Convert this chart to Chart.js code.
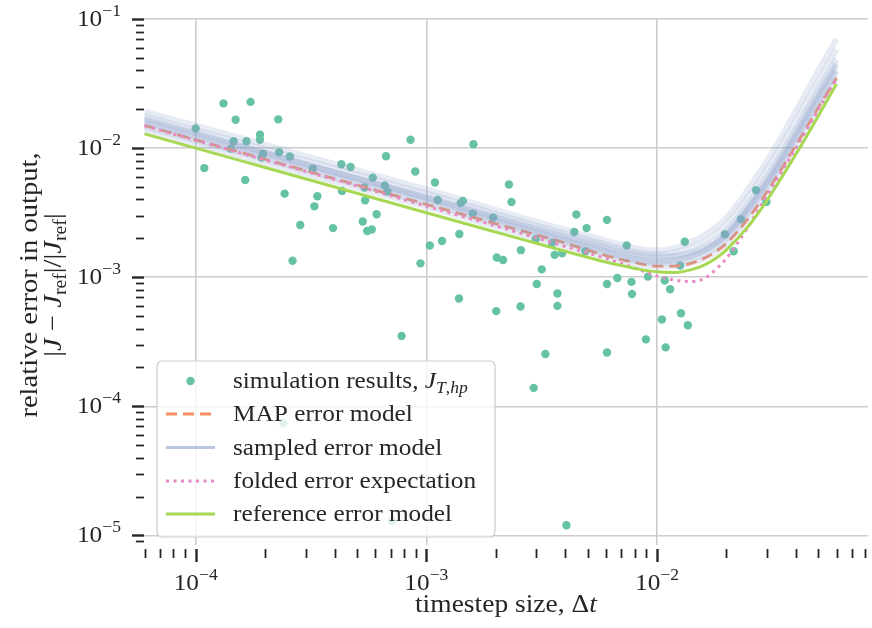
<!DOCTYPE html>
<html>
<head>
<meta charset="utf-8">
<script src="https://cdn.jsdelivr.net/npm/chart.js@4.4.1/dist/chart.umd.min.js"></script>
<style>
  html, body { margin: 0; padding: 0; background: #fff; }
  #wrap { width: 872px; height: 628px; }
</style>
</head>
<body>
<div id="wrap"><canvas id="chart" width="872" height="628"></canvas></div>
<script>
//-----Data
const simX = [1.0e-4, 1.32e-4, 1.73e-4, 1.49e-4, 1.09e-4, 1.46e-4, 1.42e-4, 1.66e-4, 1.90e-4, 1.90e-4,
  2.28e-4, 1.96e-4, 1.93e-4, 1.64e-4, 2.30e-4, 2.56e-4, 2.43e-4, 2.84e-4, 2.63e-4, 3.22e-4,
  3.37e-4, 3.27e-4, 3.94e-4, 4.28e-4, 4.69e-4, 4.31e-4, 5.39e-4, 5.43e-4, 5.86e-4, 6.69e-4,
  6.60e-4, 6.78e-4, 6.09e-4, 5.30e-4, 5.54e-4, 5.80e-4, 8.54e-4, 8.95e-4, 1.09e-3, 1.12e-3,
  1.035e-3, 9.43e-4, 7.81e-4, 1.60e-3, 1.17e-3, 1.41e-3, 1.44e-3, 1.59e-3, 1.39e-3, 1.385e-3,
  1.95e-3, 2.02e-3, 2.15e-3, 2.28e-3, 2.34e-3, 2.57e-3, 2.01e-3, 2.56e-3, 2.98e-3, 3.01e-3,
  3.165e-3, 3.51e-3, 3.60e-3, 3.88e-3, 3.70e-3, 3.70e-3, 3.28e-3, 4.47e-3, 4.38e-3, 4.95e-3,
  4.89e-3, 6.07e-3, 6.07e-3, 6.73e-3, 7.39e-3, 7.75e-3, 7.79e-3, 6.07e-3, 8.95e-3, 9.13e-3,
  1.08e-2, 1.14e-2, 1.05e-2, 1.09e-2, 1.27e-2, 1.36e-2, 1.32e-2, 1.26e-2, 1.97e-2, 2.15e-2,
  2.31e-2, 2.69e-2, 2.98e-2, 2.92e-3, 4.05e-3, 7.10e-4, 2.40e-4];
const simY = [1.42e-2, 2.22e-2, 2.28e-2, 1.66e-2, 7.0e-3, 1.13e-2, 9.9e-3, 1.13e-2, 1.27e-2, 1.16e-2,
  1.67e-2, 9.07e-3, 8.44e-3, 5.66e-3, 9.28e-3, 8.6e-3, 4.44e-3, 2.54e-3, 1.34e-3, 6.94e-3,
  4.24e-3, 3.54e-3, 2.40e-3, 7.49e-3, 7.14e-3, 4.66e-3, 4.95e-3, 3.94e-3, 5.91e-3, 8.64e-3,
  5.13e-3, 4.61e-3, 3.07e-3, 2.70e-3, 2.28e-3, 2.34e-3, 1.16e-2, 6.58e-3, 5.41e-3, 3.96e-3,
  1.76e-3, 1.28e-3, 3.51e-4, 1.07e-2, 1.91e-3, 3.76e-3, 3.90e-3, 3.11e-3, 2.16e-3, 6.84e-4,
  2.90e-3, 1.42e-3, 1.36e-3, 5.22e-3, 3.83e-3, 1.62e-3, 5.46e-4, 5.93e-4, 1.98e-3, 8.87e-4,
  1.15e-3, 1.84e-3, 1.49e-3, 1.53e-3, 7.48e-4, 6.0e-4, 2.54e-4, 3.06e-3, 2.24e-3, 2.40e-3,
  1.59e-3, 2.78e-3, 8.87e-4, 9.86e-4, 1.76e-3, 9.20e-4, 7.42e-4, 2.61e-4, 3.30e-4, 1.01e-3,
  9.43e-4, 8.07e-4, 4.71e-4, 2.86e-4, 5.26e-4, 4.25e-4, 1.88e-3, 1.23e-3, 2.15e-3, 1.59e-3,
  2.81e-3, 4.71e-3, 3.83e-3, 1.39e-4, 1.20e-5, 1.30e-5, 7.37e-5];

const curveX = [6e-5, 1e-4, 2e-4, 5e-4, 1e-3, 2e-3, 4e-3, 6e-3, 8e-3, 1e-2,
  1.2e-2, 1.4e-2, 1.6e-2, 1.8e-2, 2e-2, 2.5e-2, 3e-2, 4e-2, 5e-2, 6e-2];
const mapY = [1.50e-2, 1.16e-2, 8.2e-3, 5.19e-3, 3.67e-3, 2.60e-3, 1.84e-3, 1.47e-3, 1.30e-3, 1.22e-3,
  1.22e-3, 1.28e-3, 1.40e-3, 1.58e-3, 1.83e-3, 2.90e-3, 4.60e-3, 1.05e-2, 2.05e-2, 3.5e-2];
const foldedY = [1.49e-2, 1.15e-2, 8.1e-3, 5.1e-3, 3.55e-3, 2.50e-3, 1.73e-3, 1.40e-3, 1.18e-3, 1.02e-3,
  9.5e-4, 9.25e-4, 9.75e-4, 1.15e-3, 1.40e-3, 2.5e-3, 4.3e-3, 1.0e-2, 1.98e-2, 3.45e-2];
const refY = [1.29e-2, 1.0e-2, 7.07e-3, 4.47e-3, 3.16e-3, 2.24e-3, 1.59e-3, 1.31e-3, 1.17e-3, 1.10e-3,
  1.09e-3, 1.14e-3, 1.24e-3, 1.40e-3, 1.63e-3, 2.51e-3, 3.94e-3, 8.95e-3, 1.77e-2, 3.13e-2];

const sampleX = [6e-5, 1e-3, 5e-3, 1e-2, 1.5e-2, 2e-2, 3e-2, 4e-2, 5e-2, 6e-2];
const sampleY = [
  [1.92e-2, 4.78e-3, 2.10e-3, 1.61e-3, 1.98e-3, 2.90e-3, 7.99e-3, 1.94e-2, 3.95e-2, 7.0e-2],
  [1.77e-2, 4.45e-3, 1.97e-3, 1.51e-3, 1.79e-3, 2.56e-3, 6.86e-3, 1.63e-2, 3.29e-2, 5.78e-2],
  [1.65e-2, 4.16e-3, 1.84e-3, 1.42e-3, 1.63e-3, 2.29e-3, 6.01e-3, 1.41e-2, 2.82e-2, 4.9e-2],
  [1.56e-2, 3.94e-3, 1.75e-3, 1.34e-3, 1.52e-3, 2.12e-3, 5.48e-3, 1.28e-2, 2.53e-2, 4.38e-2],
  [1.47e-2, 3.74e-3, 1.67e-3, 1.28e-3, 1.43e-3, 1.97e-3, 5.03e-3, 1.16e-2, 2.28e-2, 3.92e-2],
  [1.38e-2, 3.52e-3, 1.57e-3, 1.21e-3, 1.33e-3, 1.82e-3, 4.58e-3, 1.05e-2, 2.05e-2, 3.5e-2],
  [1.71e-2, 4.06e-3, 1.74e-3, 1.32e-3, 1.51e-3, 2.13e-3, 5.59e-3, 1.31e-2, 2.62e-2, 4.55e-2],
  [1.59e-2, 4.17e-3, 1.89e-3, 1.46e-3, 1.59e-3, 2.16e-3, 5.38e-3, 1.22e-2, 2.37e-2, 4.03e-2]
];

const xDecades = [1e-4, 1e-3, 1e-2];
const yDecades = [1e-5, 1e-4, 1e-3, 1e-2, 1e-1];
const xTickLabels = ['10', '10', '10'];
const xTickExp = ['−4', '−3', '−2'];
const yTickExp = ['−5', '−4', '−3', '−2', '−1'];

const legendLabels = ['simulation results, ', 'MAP error model', 'sampled error model',
  'folded error expectation', 'reference error model'];

//-----Style
const SERIF = '"Liberation Serif", "Times New Roman", serif';
const STRETCH = 1.1;
const INK = '#262626';
const cScatter = '#66c2a5';
const cMap = '#fc8d62';
const cSample = 'rgba(141,160,203,0.21)';
const cFolded = '#e78ac3';
const cRef = '#a6d854';

function pairs(xs, ys){
  return xs.map((x, i) => ({x: x, y: ys[i]}));
}

//-----TEXT helpers
function partFont(p){
  return (p.it ? 'italic ' : '') + p.size + 'px ' + SERIF;
}
function partWidth(ctx, p){
  ctx.font = partFont(p);
  return ctx.measureText(p.t).width * STRETCH;
}
function drawParts(ctx, parts, x, y, align){
  let total = 0;
  parts.forEach(p => { total += partWidth(ctx, p); });
  let cx = x;
  if (align === 'center') cx = x - total / 2;
  if (align === 'right') cx = x - total;
  parts.forEach(p => {
    const w = partWidth(ctx, p);
    ctx.save();
    ctx.translate(cx, y + (p.dy || 0));
    ctx.scale(STRETCH, 1);
    ctx.font = partFont(p);
    ctx.fillStyle = INK;
    ctx.textAlign = 'left';
    ctx.textBaseline = 'alphabetic';
    ctx.fillText(p.t, 0, 0);
    ctx.restore();
    cx += w;
  });
}

//-----Axis decorations + legend
const decorPlugin = {
  id: 'decor',
  afterDraw(chart){
    const ctx = chart.ctx;
    const xs = chart.scales.x, ys = chart.scales.y;
    const area = chart.chartArea;
    ctx.save();
    ctx.strokeStyle = INK;

    // y tick marks
    for (let e = -6; e <= -1; e++){
      for (let k = 1; k <= 9; k++){
        const v = k * Math.pow(10, e);
        if (v < ys.min * 0.999 || v > ys.max * 1.001) continue;
        const py = Math.round(ys.getPixelForValue(v)) + 0.5;
        ctx.lineWidth = k === 1 ? 2.4 : 1.8;
        ctx.beginPath();
        ctx.moveTo(k === 1 ? area.left - 12 : area.left - 8, py);
        ctx.lineTo(area.left, py);
        ctx.stroke();
      }
    }
    // x tick marks
    for (let e = -5; e <= -1; e++){
      for (let k = 1; k <= 9; k++){
        const v = k * Math.pow(10, e);
        if (v < xs.min * 0.999 || v > xs.max * 1.001) continue;
        const px = Math.round(xs.getPixelForValue(v)) + 0.5;
        ctx.lineWidth = k === 1 ? 2.4 : 1.8;
        ctx.beginPath();
        ctx.moveTo(px, area.bottom + 4);
        ctx.lineTo(px, area.bottom + (k === 1 ? 17 : 13));
        ctx.stroke();
      }
    }

    // tick labels
    yDecades.forEach((v, i) => {
      const py = ys.getPixelForValue(v);
      drawParts(ctx, [{t: '10', size: 23}, {t: yTickExp[i], size: 16, dy: -10}], 121, py + 7, 'right');
    });
    xDecades.forEach((v, i) => {
      const px = xs.getPixelForValue(v);
      drawParts(ctx, [{t: xTickLabels[i], size: 23}, {t: xTickExp[i], size: 16, dy: -10}], px, 590, 'center');
    });

    // axis titles
    drawParts(ctx, [{t: 'timestep size, Δ', size: 25}, {t: 't', size: 25, it: true}],
      (area.left + area.right) / 2, 612, 'center');
    ctx.save();
    ctx.translate(37, 285);
    ctx.rotate(-Math.PI / 2);
    drawParts(ctx, [{t: 'relative error in output,', size: 26}], 0, 0, 'center');
    ctx.restore();
    ctx.save();
    ctx.translate(61, 285);
    ctx.rotate(-Math.PI / 2);
    drawParts(ctx, [
      {t: '|', size: 26}, {t: 'J', size: 26, it: true}, {t: ' − ', size: 26},
      {t: 'J', size: 26, it: true}, {t: 'ref', size: 18, dy: 5}, {t: '|/|', size: 26},
      {t: 'J', size: 26, it: true}, {t: 'ref', size: 18, dy: 5}, {t: '|', size: 26}
    ], 0, 0, 'center');
    ctx.restore();

    // legend
    const lx = 157, ly = 361, lw = 338, lh = 176;
    ctx.beginPath();
    ctx.roundRect(lx, ly, lw, lh, 5);
    ctx.fillStyle = 'rgba(255,255,255,0.8)';
    ctx.fill();
    ctx.lineWidth = 1.2;
    ctx.strokeStyle = '#cccccc';
    ctx.stroke();

    const rows = [381, 414, 447.5, 481, 514];
    const sx0 = 166, sx1 = 215, tx = 233;
    // scatter marker
    ctx.fillStyle = cScatter;
    ctx.beginPath();
    ctx.arc((sx0 + sx1) / 2, rows[0], 4.2, 0, Math.PI * 2);
    ctx.fill();
    const lineRows = [
      {c: cMap, dash: [11, 6], w: 2.8},
      {c: 'rgba(141,160,203,0.6)', dash: [], w: 3},
      {c: cFolded, dash: [3, 4.5], w: 3},
      {c: cRef, dash: [], w: 3}
    ];
    lineRows.forEach((r, i) => {
      ctx.strokeStyle = r.c;
      ctx.lineWidth = r.w;
      ctx.setLineDash(r.dash);
      ctx.beginPath();
      ctx.moveTo(sx0, rows[i + 1]);
      ctx.lineTo(sx1, rows[i + 1]);
      ctx.stroke();
    });
    ctx.setLineDash([]);
    drawParts(ctx, [
      {t: legendLabels[0], size: 23}, {t: 'J', size: 23, it: true},
      {t: 'T', size: 16, it: true, dy: 5}, {t: ',', size: 16, dy: 5}, {t: 'hp', size: 16, it: true, dy: 5}
    ], tx, rows[0] + 7, 'left');
    for (let i = 1; i < 5; i++){
      drawParts(ctx, [{t: legendLabels[i], size: 23}], tx, rows[i] + 7, 'left');
    }
    ctx.restore();
  }
};

//-----CHART
const datasets = [];
datasets.push({
  label: legendLabels[4], data: pairs(curveX, refY), showLine: true,
  borderColor: cRef, borderWidth: 3, pointRadius: 0, cubicInterpolationMode: 'monotone', order: 0
});
datasets.push({
  label: legendLabels[3], data: pairs(curveX, foldedY), showLine: true,
  borderColor: cFolded, borderWidth: 3, borderDash: [3, 4.5], pointRadius: 0,
  cubicInterpolationMode: 'monotone', order: 1
});
sampleY.forEach((ys, i) => {
  datasets.push({
    label: legendLabels[2] + ' ' + (i + 1), data: pairs(sampleX, ys), showLine: true,
    borderColor: cSample, borderWidth: 6, pointRadius: 0,
    cubicInterpolationMode: 'monotone', order: 2
  });
});
datasets.push({
  label: legendLabels[1], data: pairs(curveX, mapY), showLine: true,
  borderColor: cMap, borderWidth: 2.8, borderDash: [11, 6], pointRadius: 0,
  cubicInterpolationMode: 'monotone', order: 3
});
datasets.push({
  label: legendLabels[0], data: pairs(simX, simY),
  backgroundColor: cScatter, borderWidth: 0, pointRadius: 4.2, order: 4
});

new Chart(document.getElementById('chart').getContext('2d'), {
  type: 'scatter',
  data: { datasets: datasets },
  options: {
    responsive: false,
    animation: false,
    events: [],
    layout: { padding: { top: 19, right: 0, bottom: 0, left: 0 } },
    plugins: { legend: { display: false }, tooltip: { enabled: false } },
    scales: {
      x: {
        type: 'logarithmic', min: 5.97e-5, max: 0.082,
        border: { display: false },
        grid: { color: '#cccccc', lineWidth: 1.6, drawTicks: false },
        ticks: { display: false },
        afterBuildTicks: s => { s.ticks = xDecades.map(v => ({value: v})); },
        afterFit: s => { s.height = 83; }
      },
      y: {
        type: 'logarithmic', min: 8.43e-6, max: 0.1,
        border: { display: false },
        grid: { color: '#cccccc', lineWidth: 1.6, drawTicks: false },
        ticks: { display: false },
        afterBuildTicks: s => { s.ticks = yDecades.map(v => ({value: v})); },
        afterFit: s => { s.width = 144; }
      }
    }
  },
  plugins: [decorPlugin]
});
</script>
</body>
</html>
